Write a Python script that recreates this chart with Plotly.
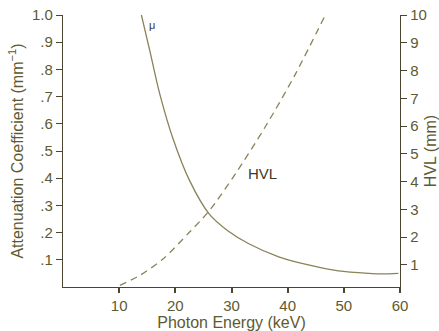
import plotly.graph_objects as go

# Linear attenuation coefficient vs photon energy
energy_mu = [13.96, 15.43, 17.2, 19.56, 22.5, 26.05, 29.4, 33.0, 38.4, 43.7, 49.05, 54.4, 57.0, 59.7]
mu_values = [1.0, 0.871, 0.712, 0.547, 0.393, 0.268, 0.206, 0.160, 0.111, 0.081, 0.059, 0.050, 0.048, 0.050]

# Half-value layer vs photon energy
energy_hvl = [10.12, 13.7, 17.8, 22.5, 26.05, 30.8, 36.1, 41.4, 46.7]
hvl_values = [0.26, 0.62, 1.21, 2.17, 2.95, 4.31, 6.0, 7.88, 10.0]

left_ticks = [0.1, 0.2, 0.3, 0.4, 0.5, 0.6, 0.7, 0.8, 0.9, 1.0]
left_labels = [".1", ".2", ".3", ".4", ".5", ".6", ".7", ".8", ".9", "1.0"]
right_ticks = [1, 2, 3, 4, 5, 6, 7, 8, 9, 10]
x_ticks = [10, 20, 30, 40, 50, 60]

curve_color = "#8a8258"
text_color = "#5e5a30"
axis_color = "#4a4632"
font_family = "Liberation Sans, Arial, sans-serif"

fig = go.Figure()
fig.add_trace(go.Scatter(
    x=energy_mu, y=mu_values, mode="lines",
    line=dict(color=curve_color, width=1.3, shape="spline", smoothing=0.8),
    showlegend=False, yaxis="y",
))
fig.add_trace(go.Scatter(
    x=energy_hvl, y=hvl_values, mode="lines",
    line=dict(color=curve_color, width=1.3, dash="7px,5px", shape="spline", smoothing=0.8),
    showlegend=False, yaxis="y2",
))

fig.add_annotation(x=15.9, y=0.965, xref="x", yref="y", text="μ", showarrow=False,
                   font=dict(size=11, color="#3c3a28", family=font_family))
fig.add_annotation(x=35.5, y=4.3, xref="x", yref="y2", text="HVL", showarrow=False,
                   font=dict(size=15, color="#3c3a28", family=font_family))

fig.update_layout(
    width=439, height=331,
    margin=dict(l=63, r=39, t=15, b=44),
    paper_bgcolor="white", plot_bgcolor="white",
    font=dict(family=font_family, size=15, color=text_color),
    xaxis=dict(
        range=[0, 60], tickvals=x_ticks, ticks="outside", ticklen=5, tickwidth=1.5,
        tickcolor=axis_color, showline=True, linecolor=axis_color, linewidth=1.3,
        showgrid=False, zeroline=False, automargin=False,
        title=dict(text="Photon Energy (keV)", standoff=1, font=dict(size=16, color=text_color)),
    ),
    yaxis=dict(
        range=[0, 1.0], tickvals=left_ticks, ticktext=left_labels, ticks="outside",
        ticklen=6, tickwidth=1.3, tickcolor=axis_color, showline=True,
        linecolor=axis_color, linewidth=1.3, showgrid=False, zeroline=False,
        automargin=False,
        title=dict(text="Attenuation Coefficient (mm<sup>−1</sup>)", standoff=4,
                   font=dict(size=16, color=text_color)),
    ),
    yaxis2=dict(
        range=[0.2, 10.0], overlaying="y", side="right", tickvals=right_ticks,
        ticks="outside", ticklen=6, tickwidth=1.3, tickcolor=axis_color,
        showline=True, linecolor=axis_color, linewidth=1.3, showgrid=False,
        zeroline=False, automargin=False,
        title=dict(text="HVL (mm)", standoff=6, font=dict(size=16, color=text_color)),
    ),
)

fig.write_html("out.html")
